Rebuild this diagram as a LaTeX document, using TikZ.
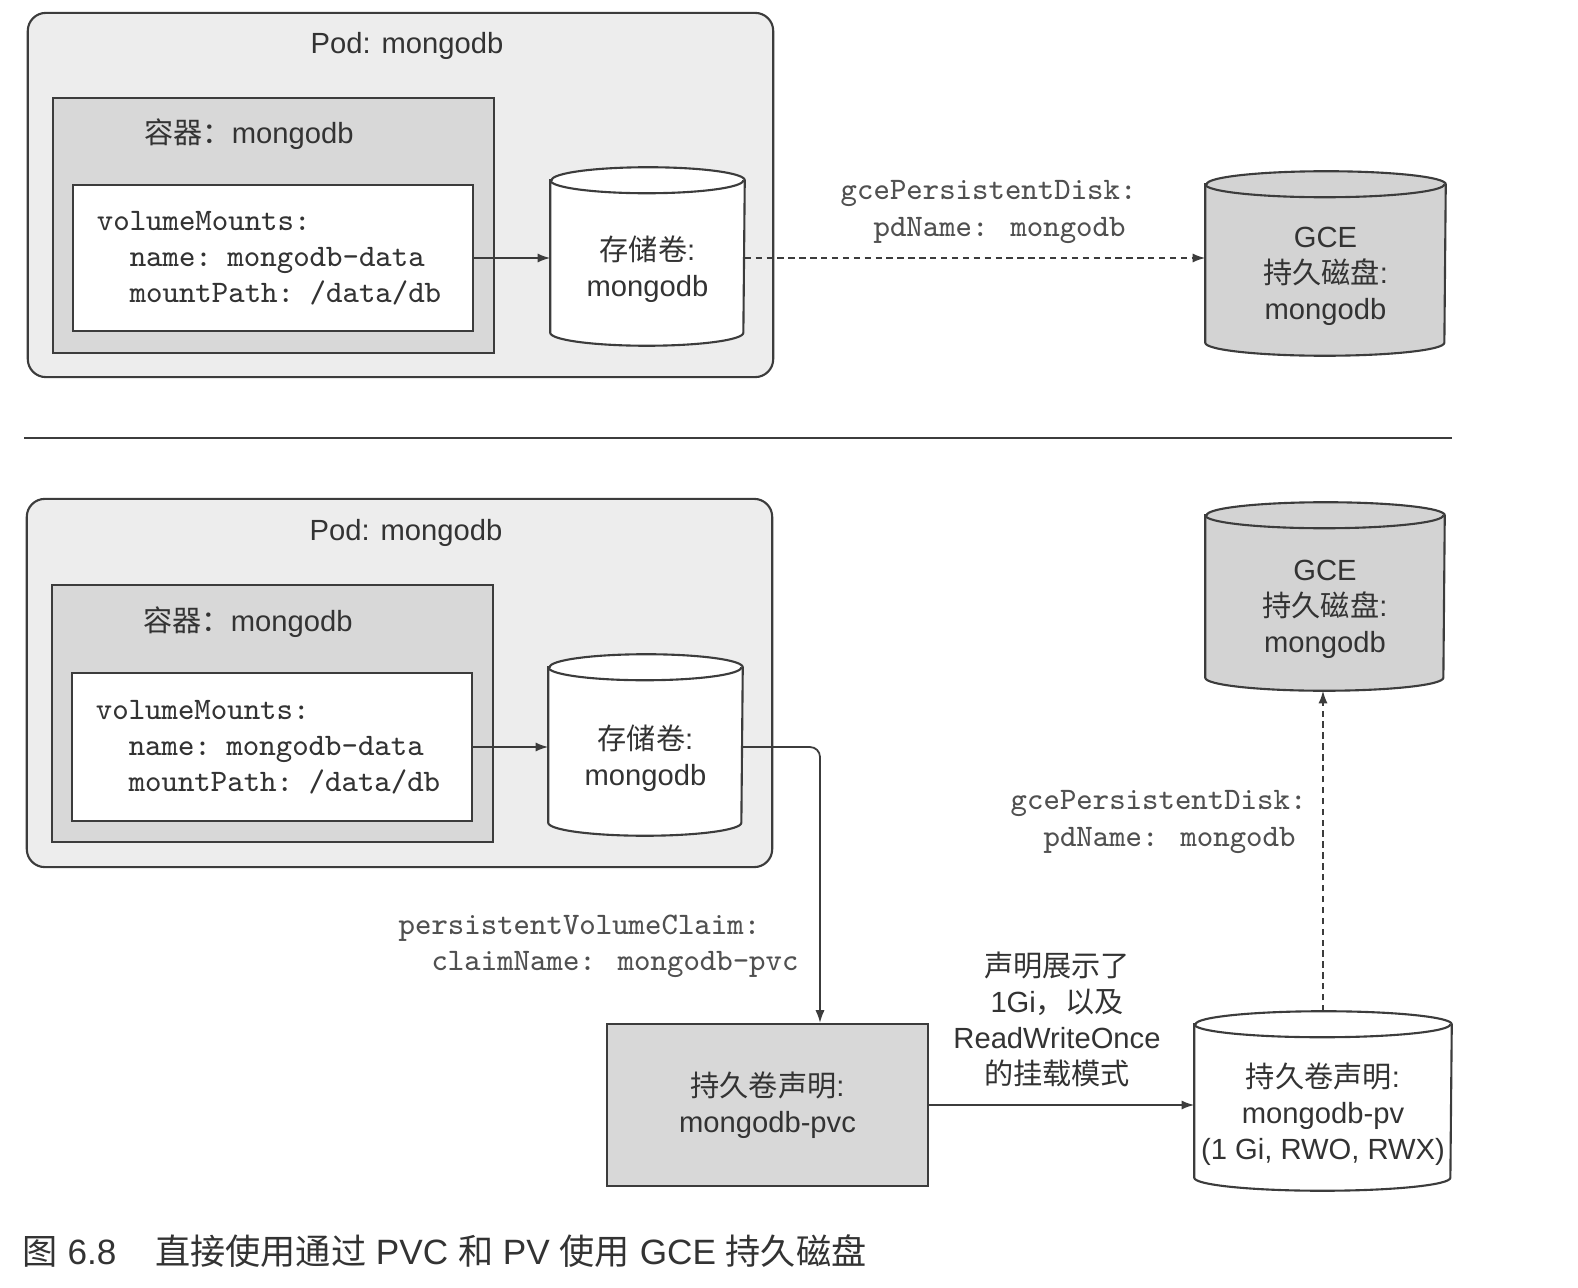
\documentclass[tikz,border=0pt]{standalone}
\usepackage{fontspec}
\usepackage{tikz}
\usepackage{color}
\setmainfont{Liberation Sans}
\newfontfamily\cjk{Noto Sans CJK SC}
\newcommand{\zh}[1]{{\cjk #1}}
\newcommand{\labfont}{\fontsize{8.3}{10.25}\selectfont}
\newcommand{\codefont}{\ttfamily\fontsize{8.9}{10.25}\selectfont}
\usetikzlibrary{arrows.meta,calc}

\definecolor{edge}{HTML}{3C3C3C}
\definecolor{ink}{HTML}{333333}
\definecolor{soft}{HTML}{505050}
\definecolor{podgray}{HTML}{EDEDED}
\definecolor{ctrgray}{HTML}{D8D8D8}
\definecolor{diskgray}{HTML}{D3D3D3}

% height of the half ellipse on a drum
\def\ry{0.13cm}
% drum: [fill]{name}{x,y}{width}{height}{text}
\newcommand{\drum}[6][white]{%
  \node[drumbody,minimum width=#4,minimum height=#5] (#2) at (#3) {};
  \filldraw[box,fill=#1] ([yshift=\ry]#2.north west) -- ([yshift=\ry]#2.south west)
    arc[start angle=180,end angle=360,x radius=#4/2,y radius=\ry]
    -- ([yshift=\ry]#2.north east)
    arc[start angle=0,end angle=180,x radius=#4/2,y radius=\ry] -- cycle;
  \draw[box] ([yshift=\ry]#2.north west)
    arc[start angle=180,end angle=360,x radius=#4/2,y radius=\ry];
  \node[drumtext] (#2-txt) at (#2) {#6};
  \coordinate (#2-top) at ([yshift=2*\ry]#2.north);
}

\begin{document}
\begin{tikzpicture}[x=0.01cm,y=-0.01cm,
  box/.style={draw=edge,line width=0.6pt},
  podbox/.style={box,fill=podgray,rounded corners=0.18cm,inner sep=0pt},
  ctrbox/.style={box,fill=ctrgray,inner sep=0pt},
  codebox/.style={box,fill=white,inner sep=0pt,align=left,text=ink,font=\codefont},
  drumbody/.style={inner sep=0pt},
  drumtext/.style={align=center,text=ink,font=\labfont},
  lbl/.style={text=ink,font=\labfont,inner sep=0pt},
  codelbl/.style={align=left,text=soft,font=\codefont,inner sep=0pt},
  flow/.style={-{Latex[length=3.6pt,width=2.6pt]},draw=edge,line width=0.5pt},
  link/.style={flow,dash pattern=on 1.8pt off 1.3pt}]
  \fill[white] (0,0) rectangle (1578,1288);
  \useasboundingbox (0,0) rectangle (1578,1288);

  % upper half: pod uses the gce disk directly
  \node[podbox,minimum width=7.45cm,minimum height=3.64cm] (pod1) at (400.5,195) {};
  \node[lbl] (pod1lbl) at (407,46) {Pod: mongodb};
  \node[ctrbox,minimum width=4.41cm,minimum height=2.55cm] (ctr1) at (273.5,225.5) {};
  \node[lbl] (ctr1lbl) at (249,134) {\zh{容器：}mongodb};
  \node[codebox,minimum width=4cm,minimum height=1.46cm,text width=3.52cm] (code1) at (273,258)
    {volumeMounts:\\\phantom{xx}name: mongodb-data\\\phantom{xx}mountPath: /data/db};
  \drum{vol1}{647.5,269.5}{1.93cm}{1.51cm}{\zh{存储卷}:\\mongodb}
  \drum[diskgray]{gce1}{1325.5,276.5}{2.39cm}{1.57cm}{GCE\\\zh{持久磁盘}:\\mongodb}
  \node[codelbl,anchor=west] (gce1lbl) at (840,212) {gcePersistentDisk:\\\phantom{xx}pdName: mongodb};

  \draw[flow] (code1.east) -- (code1.east -| vol1.west);
  \draw[link] (code1.east -| vol1.east) -- (code1.east -| gce1.west);

  \draw[draw=edge,line width=0.6pt] (24,438) -- (1452,438);

  % lower half: pod -> pvc -> pv -> gce disk
  \node[podbox,minimum width=7.45cm,minimum height=3.68cm] (pod2) at (399.5,683) {};
  \node[lbl] (pod2lbl) at (406,533) {Pod: mongodb};
  \node[ctrbox,minimum width=4.41cm,minimum height=2.57cm] (ctr2) at (272.5,713.5) {};
  \node[lbl] (ctr2lbl) at (248,622) {\zh{容器：}mongodb};
  \node[codebox,minimum width=4cm,minimum height=1.48cm,text width=3.52cm] (code2) at (272,747)
    {volumeMounts:\\\phantom{xx}name: mongodb-data\\\phantom{xx}mountPath: /data/db};
  \drum{vol2}{645.5,758}{1.93cm}{1.54cm}{\zh{存储卷}:\\mongodb}
  \drum[diskgray]{gce2}{1325,609.5}{2.38cm}{1.61cm}{GCE\\\zh{持久磁盘}:\\mongodb}
  \node[ctrbox,minimum width=3.21cm,minimum height=1.62cm,align=center,text=ink,font=\labfont]
    (pvc) at (767.5,1105) {\zh{持久卷声明}:\\mongodb-pvc};
  \drum{pv}{1323,1114}{2.56cm}{1.52cm}{\zh{持久卷声明}:\\mongodb-pv\\(1 Gi, RWO, RWX)}

  \node[codelbl,anchor=west] (pvclbl) at (398,946) {persistentVolumeClaim:\\\phantom{xx}claimName: mongodb-pvc};
  \node[codelbl,anchor=west] (gce2lbl) at (1010,822) {gcePersistentDisk:\\\phantom{xx}pdName: mongodb};
  \node[drumtext] (bindlbl) at (1057,1019) {\zh{声明展示了}\\1Gi\zh{，以及}\\ReadWriteOnce\\\zh{的挂载模式}};

  \coordinate (bend) at (820,747);
  \draw[flow] (code2.east) -- (code2.east -| vol2.west);
  \draw[flow,rounded corners=0.1cm] (code2.east -| vol2.east) -| (bend |- pvc.north);
  \draw[flow] (pvc.east) -- (pvc.east -| pv.west);
  \draw[link] (pv-top) -- (pv-top |- gce2.south);

  \node[anchor=west,inner sep=0pt,text=ink,font=\fontsize{10}{12}\selectfont] (caption) at (22,1251)
    {\zh{图} 6.8\hspace{1.1em}\zh{直接使用通过} PVC \zh{和} PV \zh{使用} GCE \zh{持久磁盘}};
\end{tikzpicture}
\end{document}
